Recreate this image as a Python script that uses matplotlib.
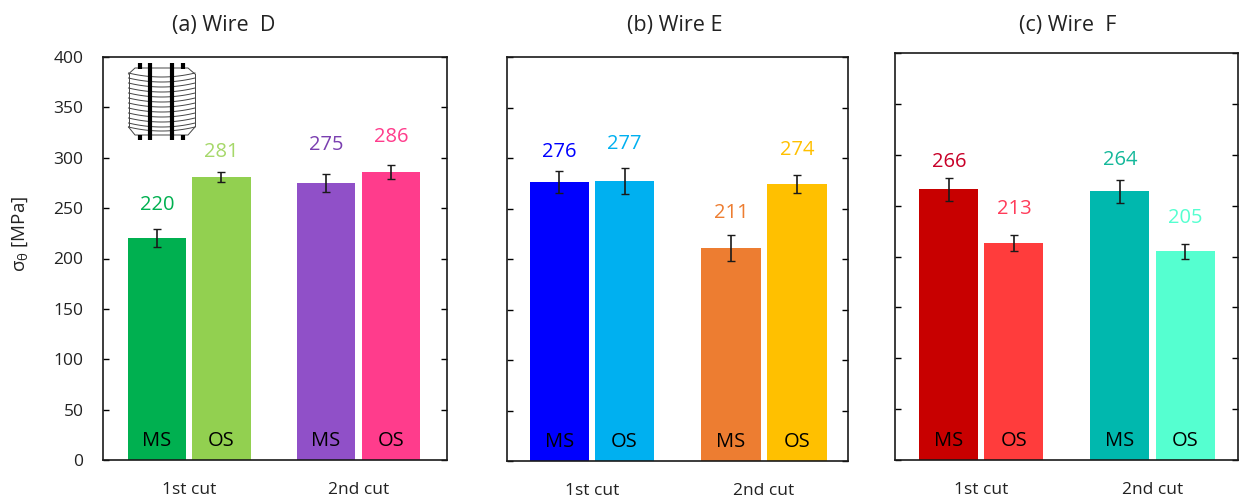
import numpy as np
import matplotlib
matplotlib.use("Agg")
import matplotlib.pyplot as plt

plt.rcParams['font.family'] = ['Open Sans', 'DejaVu Sans']
plt.rcParams['mathtext.fontset'] = 'custom'
plt.rcParams['mathtext.rm'] = 'Open Sans'
plt.rcParams['mathtext.it'] = 'Open Sans'
plt.rcParams['mathtext.fallback'] = 'cm'

W, H = 1240, 497
titles = ['(a) Wire  D', '(b) Wire E', '(c) Wire  F']
cuts = ['1st cut', '2nd cut']
sides = ['MS', 'OS', 'MS', 'OS']
yticks = [0, 50, 100, 150, 200, 250, 300, 350, 400]

wire_d = [220, 281, 275, 286]
wire_e = [276, 277, 211, 274]
wire_f = [266, 213, 264, 205]
err_d = [9, 5, 9, 7]
err_e = [11, 13, 13, 9]
err_f = [11, 8, 11, 7]
colors_d = ['#00B050', '#92D050', '#9050C8', '#FF3C8C']
colors_e = ['#0000FF', '#00B0F0', '#ED7D31', '#FFC000']
colors_f = ['#C80000', '#FF3C3C', '#00B8AE', '#55FFD0']
text_colors_d = ['#00B050', '#A6D86A', '#7A3FB0', '#FF3C8C']
text_colors_e = ['#0000FF', '#00B0F0', '#ED7D31', '#FFC000']
text_colors_f = ['#C80028', '#FF3C5A', '#14B89A', '#55FFD0']
label_gap_d = [33.5, 24.5, 37.5, 34.5]
label_gap_e = [30.5, 37.5, 35, 34.5]
label_gap_f = [27.5, 34.5, 31.5, 33.5]

positions = [0, 1, 2.63, 3.64]
group_centres = [0.5, 3.135]

panels = [
    (103, 447, 57, 460, wire_d, err_d, colors_d, text_colors_d, label_gap_d, titles[0], 224, -0.84, 4.51, True),
    (507, 848, 57, 461, wire_e, err_e, colors_e, text_colors_e, label_gap_e, titles[1], 675, -0.80, 4.42, False),
    (895, 1238, 53, 460, wire_f, err_f, colors_f, text_colors_f, label_gap_f, titles[2], 1068, -0.83, 4.45, False),
]

fig = plt.figure(figsize=(W / 100, H / 100), dpi=100, facecolor='white')


def px_axes(l, r, t, b):
    return fig.add_axes([l / W, 1 - b / H, (r - l) / W, (b - t) / H])


for (l, r, t, b, vals, errs, cols, tcols, gaps, title, tx, x0, x1, show_y) in panels:
    ax = px_axes(l, r, t, b)
    ax.bar(positions, vals, width=0.91, color=cols, linewidth=0, zorder=2)
    ax.errorbar(positions, vals, yerr=errs, fmt='none', ecolor='#1a1a1a',
                elinewidth=1.2, capsize=3.2, capthick=1.0, zorder=3)
    for x, v, c, g, s in zip(positions, vals, tcols, gaps, sides):
        ax.annotate(str(v), (x, v), xytext=(0, g * 0.72), textcoords='offset points',
                    ha='center', va='center', color=c, fontsize=14.5)
        ax.annotate(s, (x, 0), xytext=(0, 14), textcoords='offset points',
                    ha='center', va='center', color='black', fontsize=14.5)
    ax.set_xlim(x0, x1)
    ax.set_ylim(0, 400)
    ax.set_yticks(yticks)
    ax.set_xticks(group_centres, cuts)
    ax.tick_params(axis='x', length=0, pad=15.5, labelsize=12.5, colors='#222222')
    ax.tick_params(axis='y', direction='in', length=4.5, width=1.0, left=True, right=True,
                   labelsize=12.5, pad=14, labelleft=show_y, labelcolor='#222222')
    for sp in ax.spines.values():
        sp.set_linewidth(1.2)
        sp.set_color('#1a1a1a')
    fig.text(tx / W, 1 - 25 / H, title, ha='center', va='center',
             fontsize=15.5, color='#222222')
    if show_y:
        fig.text(20 / W, 1 - 234 / H, r'$\mathrm{\sigma_{\theta}}$ [MPa]', rotation=90,
                 ha='center', va='center', fontsize=13.5, color='#222222')

# coil icon in panel (a)
icon = fig.add_axes([120 / W, 1 - 146 / H, 84 / W, 90 / H])
icon.set_xlim(120, 204)
icon.set_ylim(146, 56)
icon.axis('off')
icon.patch.set_alpha(0)
xs = np.linspace(128.5, 195, 40)
mid = (128.5 + 195) / 2
u = (xs - mid) / (195 - mid)
for y in [75, 80, 85, 90, 95, 100, 105, 110, 115, 120, 125, 129]:
    icon.plot(xs, y + 4 * (1 - u ** 2) - 2, color='#444444', lw=0.7)
icon.plot([128.5, 128.5], [74, 126], color='#444444', lw=0.7)
icon.plot([195, 195], [74, 126], color='#444444', lw=0.7)
icon.plot([128.5, 135, 188, 195], [74, 68, 68, 74], color='#444444', lw=0.7)
icon.plot([128.5, 135, 188, 195], [127, 135, 135, 127], color='#444444', lw=0.7)
for x in [150, 172]:
    icon.plot([x, x], [63.5, 140], color='black', lw=3, solid_capstyle='butt')
for x in [139.5, 183]:
    icon.plot([x, x], [63.5, 69], color='black', lw=3, solid_capstyle='butt')
    icon.plot([x, x], [135, 140], color='black', lw=3, solid_capstyle='butt')

fig.savefig('out.png', dpi=100, facecolor='white')
